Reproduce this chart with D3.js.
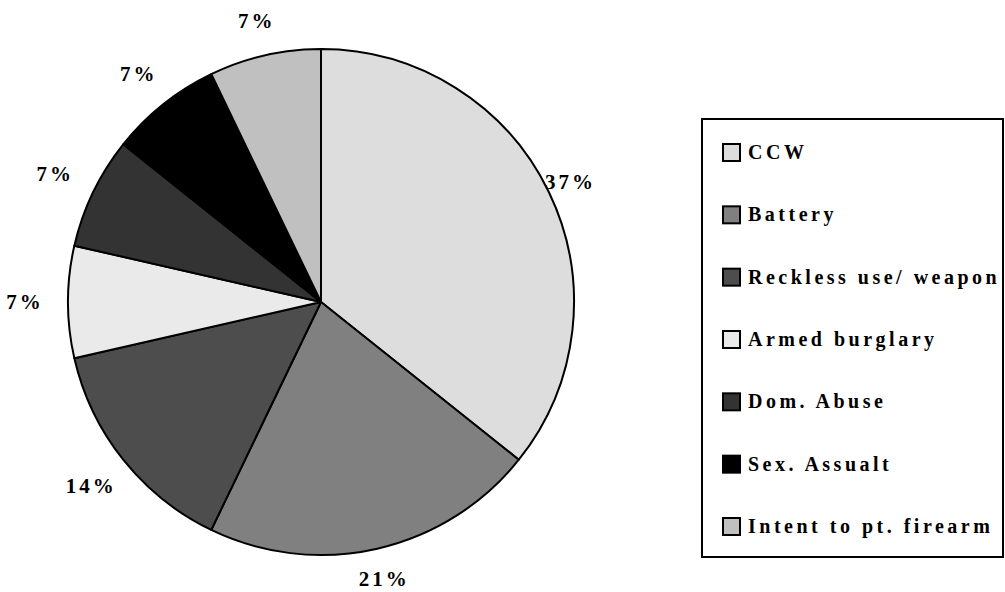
<!DOCTYPE html>
<html lang="en">
<head>
  <meta charset="UTF-8">
  <title>Weapon offenses</title>
  <script src="https://d3js.org/d3.v7.min.js"></script>
  <style>
    body { margin: 0; background: #fff; }
    #chart text { font-family: "Liberation Serif", "DejaVu Serif", serif; font-weight: 700; }
  </style>
</head>
<body>
  <div id="chart"></div>
  <script>
    // slice data, clockwise from 12 o'clock
    var categories = ["CCW", "Battery", "Reckless use/ weapon", "Armed burglary", "Dom. Abuse", "Sex. Assualt", "Intent to pt. firearm"];
    var counts = [5, 3, 2, 1, 1, 1, 1];
    var pctLabels = ["37%", "21%", "14%", "7%", "7%", "7%", "7%"];
    var colors = ["#dddddd", "#808080", "#4d4d4d", "#eaeaea", "#333333", "#000000", "#c0c0c0"];

    var W = 1005, H = 592;
    var cx = 321, cy = 302, r = 253;

    var svg = d3.select("#chart").append("svg")
      .attr("width", W)
      .attr("height", H);

    var pie = d3.pie().sort(null).value(function(d) { return d; });
    var arcs = pie(counts);

    var arc = d3.arc().innerRadius(0).outerRadius(r);

    var g = svg.append("g").attr("transform", "translate(" + cx + "," + cy + ")");

    g.selectAll("path")
      .data(arcs)
      .enter()
      .append("path")
      .attr("d", arc)
      .attr("fill", function(d, i) { return colors[i]; })
      .attr("stroke", "#000")
      .attr("stroke-width", 2)
      .attr("stroke-linejoin", "round");

    // labels on the left side sit a little further out, like the original
    function labelPos(d) {
      var a = (d.startAngle + d.endAngle) / 2;
      var rr = 286 - 10 * Math.sin(a);
      return d3.arc().innerRadius(rr).outerRadius(rr).centroid(d);
    }

    g.selectAll("text.pct")
      .data(arcs)
      .enter()
      .append("text")
      .attr("class", "pct")
      .attr("transform", function(d) { return "translate(" + labelPos(d) + ")"; })
      .attr("text-anchor", "middle")
      .attr("dy", "0.35em")
      .style("font-size", "21px")
      .style("letter-spacing", "3px")
      .text(function(d, i) { return pctLabels[i]; });

    // legend
    var legend = svg.append("g");
    legend.append("rect")
      .attr("x", 702).attr("y", 119)
      .attr("width", 301).attr("height", 438)
      .attr("fill", "#fff")
      .attr("stroke", "#000")
      .attr("stroke-width", 2);

    var ly = d3.scalePoint().domain(categories).range([152, 526]);

    var items = legend.selectAll("g.item")
      .data(categories)
      .enter()
      .append("g")
      .attr("class", "item")
      .attr("transform", function(d) { return "translate(722," + ly(d) + ")"; });

    items.append("rect")
      .attr("x", 1).attr("y", -8)
      .attr("width", 17).attr("height", 17)
      .attr("fill", function(d, i) { return colors[i]; })
      .attr("stroke", "#000")
      .attr("stroke-width", 2);

    items.append("text")
      .attr("x", 26)
      .attr("y", 7)
      .style("font-size", "20px")
      .style("letter-spacing", "3.5px")
      .text(function(d) { return d; });
  </script>
</body>
</html>
